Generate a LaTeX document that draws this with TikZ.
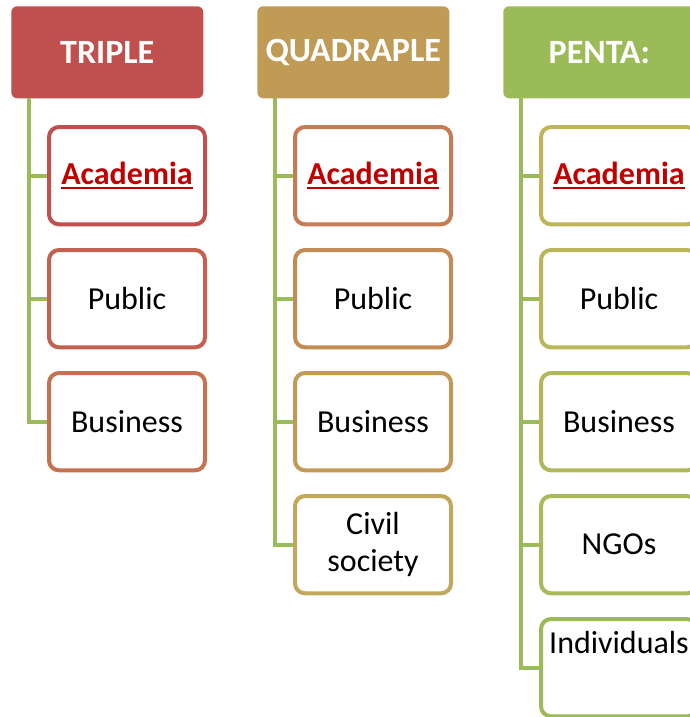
\documentclass[tikz,border=0pt]{standalone}
\usepackage{fontspec}
\setmainfont{Carlito}
\newsavebox\ulbox
\newcommand{\myul}[1]{\sbox\ulbox{#1}\usebox\ulbox\llap{\rule[-3.6pt]{\wd\ulbox}{1.4pt}}}
\begin{document}
\begin{tikzpicture}[x=0.75pt,y=-0.75pt,
  hdr/.style={rounded corners=4.5pt,minimum width=144pt,minimum height=69pt,anchor=north west,inner sep=0pt,text=white,font=\fontsize{25.5}{30}\selectfont\bfseries},
  item/.style={draw,line width=3pt,rounded corners=7.5pt,fill=white,minimum width=117pt,minimum height=73pt,anchor=north west,inner sep=0pt,font=\fontsize{24}{28}\selectfont,align=center},
  conn/.style={draw=cGreen,line width=3pt}]
\definecolor{cRed}{HTML}{C0504D}
\definecolor{cGold}{HTML}{C09B55}
\definecolor{cGreen}{HTML}{9BBB59}
\definecolor{acad}{HTML}{C00000}
\newcommand{\acadtext}{{\color{acad}\bfseries\myul{Academia}}}
\useasboundingbox (0,0) rectangle (689,717);
% headers
\node[hdr,fill=cRed] (h1) at (11,6) {TRIPLE};
\node[hdr,fill=cGold] (h2) at (257,6) {QUADRAPLE};
\node[hdr,fill=cGreen,minimum width=160pt] (h3) at (503,6) {\hspace*{-16pt}PENTA:};
% connector top coordinates
\coordinate (t1) at (29,98);
\coordinate (t2) at (275,98);
\coordinate (t3) at (521,98);
% triple
\node[item,draw={rgb,255:red,192;green,80;blue,77}] (a1) at (47,125) {\acadtext};
\node[item,draw={rgb,255:red,195;green,96;blue,79}] (b1) at (47,248) {Public};
\node[item,draw={rgb,255:red,197;green,114;blue,81}] (c1) at (47,371) {Business};
% quadraple
\node[item,draw={rgb,255:red,196;green,124;blue,84}] (a2) at (293,125) {\acadtext};
\node[item,draw={rgb,255:red,196;green,139;blue,85}] (b2) at (293,248) {Public};
\node[item,draw={rgb,255:red,194;green,154;blue,86}] (c2) at (293,371) {Business};
\node[item,draw={rgb,255:red,193;green,168;blue,90}] (d2) at (293,494) {Civil\\society};
% penta
\node[item,draw={rgb,255:red,192;green,180;blue,90}] (a3) at (539,125) {\acadtext};
\node[item,draw={rgb,255:red,186;green,183;blue,90}] (b3) at (539,248) {Public};
\node[item,draw={rgb,255:red,178;green,184;blue,90}] (c3) at (539,371) {Business};
\node[item,draw={rgb,255:red,168;green,186;blue,90}] (d3) at (539,494) {NGOs};
\node[item,draw={rgb,255:red,155;green,187;blue,89}] (e3) at (539,617) {};
\node[font=\fontsize{24}{28}\selectfont,anchor=center] (e3t) at (619,642) {Individuals};
% connectors
\draw[conn] (t1) |- (a1.west);
\draw[conn] (t1) |- (b1.west);
\draw[conn] (t1) |- (c1.west);
\draw[conn] (t2) |- (a2.west);
\draw[conn] (t2) |- (b2.west);
\draw[conn] (t2) |- (c2.west);
\draw[conn] (t2) |- (d2.west);
\draw[conn] (t3) |- (a3.west);
\draw[conn] (t3) |- (b3.west);
\draw[conn] (t3) |- (c3.west);
\draw[conn] (t3) |- (d3.west);
\draw[conn] (t3) |- (e3.west);
\end{tikzpicture}
\end{document}
